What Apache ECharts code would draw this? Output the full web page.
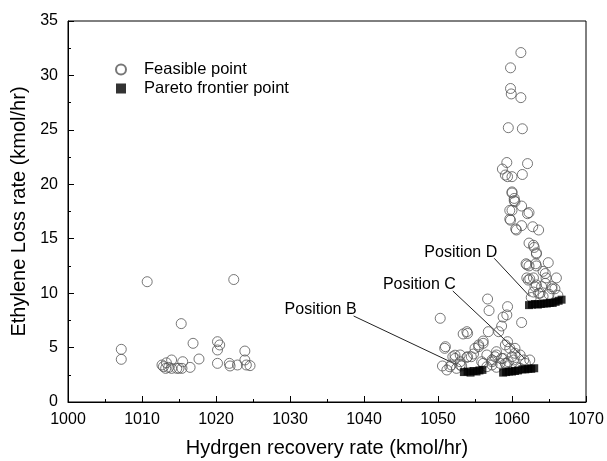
<!DOCTYPE html>
<html>
<head>
<meta charset="utf-8">
<script src="https://cdn.jsdelivr.net/npm/echarts@6/dist/echarts.min.js"></script>
<style>
  html, body { margin: 0; padding: 0; background: #fff; }
  #chart { width: 607px; height: 461px; }
</style>
</head>
<body>
<div id="chart"></div>
<script>
// hydrogen recovery (kmol/hr), ethylene loss (kmol/hr)
const feasiblePoints = [
  // low-recovery group
  [1007.2, 4.84], [1007.2, 3.92], [1010.7, 11.05], [1015.3, 7.2], [1016.9, 5.39],
  [1017.7, 3.95], [1020.2, 5.54], [1020.5, 5.24], [1020.2, 4.78], [1020.2, 3.55],
  [1022.4, 11.25], [1023.9, 4.68], [1023.9, 3.86], [1012.7, 3.4], [1012.9, 3.25],
  [1013.2, 3.09], [1013.6, 3.18], [1014.0, 3.86], [1014.0, 3.09], [1014.7, 3.09],
  [1015.4, 3.09], [1015.5, 3.7], [1016.5, 3.18], [1021.8, 3.55], [1021.9, 3.31],
  [1022.9, 3.4], [1024.1, 3.4], [1024.6, 3.34], [1013.3, 3.6], [1015.0, 3.1],
  // upper column
  [1061.2, 32.1], [1059.8, 30.7], [1059.8, 28.8], [1059.9, 28.3], [1061.2, 27.96],
  [1059.5, 25.2], [1061.4, 25.1], [1059.3, 22.0], [1062.1, 21.9], [1058.7, 21.4],
  [1059.4, 20.7], [1060.0, 20.7], [1061.4, 20.9], [1060.0, 19.3], [1060.3, 18.7],
  [1059.1, 20.85], [1060.0, 19.2], [1060.3, 18.5], [1061.3, 18.0], [1060.0, 17.6],
  [1062.3, 17.4], [1059.8, 16.7], [1060.5, 15.9], [1061.3, 16.2], [1062.8, 16.1],
  [1063.6, 15.8], [1062.3, 14.6], [1062.9, 14.4], [1063.0, 14.2], [1063.3, 13.6],
  [1061.9, 12.7], [1062.3, 12.5], [1063.2, 12.7], [1064.9, 12.8], [1062.0, 11.4],
  [1062.9, 11.4], [1064.2, 12.0], [1064.6, 11.4], [1066.0, 11.4], [1063.1, 10.6],
  [1064.0, 10.6], [1065.4, 10.6], [1063.8, 10.0], [1065.8, 10.4], [1062.0, 12.6],
  [1063.3, 12.5], [1062.4, 11.3], [1064.5, 11.8], [1063.3, 10.75], [1064.5, 10.9],
  [1062.9, 10.1], [1065.4, 10.4], [1063.6, 9.98], [1060.4, 18.4], [1059.7, 17.6],
  [1062.1, 17.3], [1059.7, 16.8], [1060.6, 15.8], [1063.3, 13.7], [1062.2, 11.2],
  [1062.6, 9.6], [1064.2, 9.7], [1065.0, 9.9], [1066.2, 9.8],
  // lower group
  [1056.7, 9.46], [1056.9, 8.4], [1059.4, 8.76], [1059.3, 8.0], [1058.8, 7.8],
  [1058.6, 6.98], [1061.3, 7.3], [1053.9, 6.46], [1054.0, 6.3], [1056.8, 6.46],
  [1056.1, 5.6], [1059.4, 5.54], [1055.5, 5.08], [1059.7, 4.93], [1054.8, 4.41],
  [1057.9, 4.62], [1060.4, 4.47], [1061.1, 4.32], [1052.3, 4.0], [1053.9, 4.1],
  [1057.3, 3.86], [1058.8, 4.0], [1060.2, 3.86], [1062.4, 3.86], [1053.0, 3.7],
  [1055.9, 3.7], [1058.4, 3.55], [1059.5, 3.7], [1061.8, 3.55], [1051.8, 3.4],
  [1056.6, 3.24], [1057.9, 3.19], [1060.6, 3.19], [1050.3, 7.69], [1050.9, 4.93],
  [1052.0, 4.16], [1053.0, 4.32], [1054.0, 4.16], [1055.0, 4.93], [1050.6, 3.31],
  [1051.6, 3.24], [1052.5, 3.09], [1053.2, 3.31], [1051.2, 2.94], [1051.0, 5.08],
  [1052.3, 4.3], [1053.4, 6.25], [1055.5, 5.24], [1056.1, 5.39], [1054.5, 4.16],
  [1056.6, 4.32], [1057.7, 4.16], [1058.6, 4.0], [1053.0, 3.4], [1056.1, 3.55],
  [1057.3, 3.4], [1059.3, 3.55], [1058.2, 6.46], [1059.1, 5.24], [1060.4, 4.93],
  [1060.0, 4.16], [1057.9, 4.32], [1057.3, 3.7], [1059.1, 3.55], [1061.6, 3.86],
  [1061.1, 3.09]
];

const paretoPoints = [
  [1053.5, 2.75], [1054.0, 2.8], [1054.4, 2.7], [1054.8, 2.85], [1055.2, 2.8],
  [1055.6, 2.9], [1056.0, 2.95],
  [1058.8, 2.7], [1059.2, 2.75], [1059.6, 2.8], [1060.0, 2.8], [1060.4, 2.85],
  [1060.8, 2.9],
  [1061.4, 3.0], [1061.8, 3.0], [1062.2, 3.05], [1062.6, 3.05], [1063.0, 3.1],
  [1062.3, 8.9], [1062.7, 8.95], [1063.1, 9.0], [1063.5, 8.95], [1063.9, 9.0],
  [1064.3, 9.05], [1064.7, 9.05], [1065.1, 9.1], [1065.5, 9.1], [1065.9, 9.2],
  [1066.3, 9.3], [1066.7, 9.4]
];

// annotation leader lines: [label start, target]
const positionNames = ["Position B", "Position C", "Position D"];
const positionLines = [
  [[1038.6, 7.9], [1052.6, 3.4]],
  [[1052.0, 10.2], [1061.8, 3.95]],
  [[1057.6, 13.2], [1062.4, 9.7]]
];

const chart = echarts.init(document.getElementById("chart"), null, { renderer: "canvas" });

const fontFamily = "Liberation Sans, Arial, sans-serif";

const annotationSeries = positionLines.map((pts, i) => ({
  type: "line",
  data: [
    {
      value: pts[0],
      label: {
        show: true,
        formatter: positionNames[i],
        position: "left",
        distance: 0,
        offset: [3, -6],
        color: "#000",
        fontSize: 16,
        fontFamily: fontFamily
      }
    },
    { value: pts[1] }
  ],
  symbol: "circle",
  symbolSize: 0,
  showSymbol: true,
  silent: true,
  z: 1,
  lineStyle: { color: "#222", width: 1 },
  itemStyle: { color: "#222" }
}));

const option = {
  animation: false,
  backgroundColor: "#fff",
  grid: {
    left: 68,
    right: 21,
    top: 21,
    bottom: 59,
    outerBoundsMode: "none",
    show: true,
    borderColor: "#000",
    borderWidth: 1
  },
  legend: {
    left: 110,
    top: 56,
    orient: "vertical",
    itemGap: 2,
    itemWidth: 10,
    itemHeight: 10,
    textStyle: { fontSize: 16.5, fontFamily: fontFamily, color: "#000", padding: [0, 0, 0, 13] },
    data: ["Feasible point", "Pareto frontier point"]
  },
  xAxis: {
    type: "value",
    min: 1000,
    max: 1070,
    interval: 10,
    name: "Hydrgen recovery rate (kmol/hr)",
    nameLocation: "middle",
    nameGap: 36,
    nameTextStyle: { fontSize: 20, fontFamily: fontFamily, color: "#000" },
    axisLine: { lineStyle: { color: "#000", width: 1 } },
    axisTick: { inside: true, length: 6, lineStyle: { color: "#000" } },
    minorTick: { show: true, splitNumber: 2, length: 3, lineStyle: { color: "#000" } },
    axisLabel: {
      fontSize: 16, fontFamily: fontFamily, color: "#000", margin: 10,
      formatter: (v) => String(v)
    },
    splitLine: { show: false }
  },
  yAxis: {
    type: "value",
    min: 0,
    max: 35,
    interval: 5,
    name: "Ethylene Loss rate (kmol/hr)",
    nameLocation: "middle",
    nameGap: 38,
    nameTextStyle: { fontSize: 20, fontFamily: fontFamily, color: "#000" },
    axisLine: { show: true, lineStyle: { color: "#000", width: 1 } },
    axisTick: { show: true, inside: true, length: 6, lineStyle: { color: "#000" } },
    minorTick: { show: true, splitNumber: 2, length: 3, lineStyle: { color: "#000" } },
    axisLabel: { fontSize: 16, fontFamily: fontFamily, color: "#000", margin: 10 },
    splitLine: { show: false }
  },
  series: [
    {
      name: "Feasible point",
      type: "scatter",
      data: feasiblePoints,
      symbol: "circle",
      symbolSize: 10,
      z: 2,
      itemStyle: { color: "rgba(255,255,255,0)", borderColor: "#555", borderWidth: 1 }
    },
    {
      name: "Pareto frontier point",
      type: "scatter",
      data: paretoPoints,
      symbol: "rect",
      symbolSize: 8,
      z: 3,
      itemStyle: { color: "#000" }
    },
    ...annotationSeries
  ]
};

chart.setOption(option);
</script>
</body>
</html>
